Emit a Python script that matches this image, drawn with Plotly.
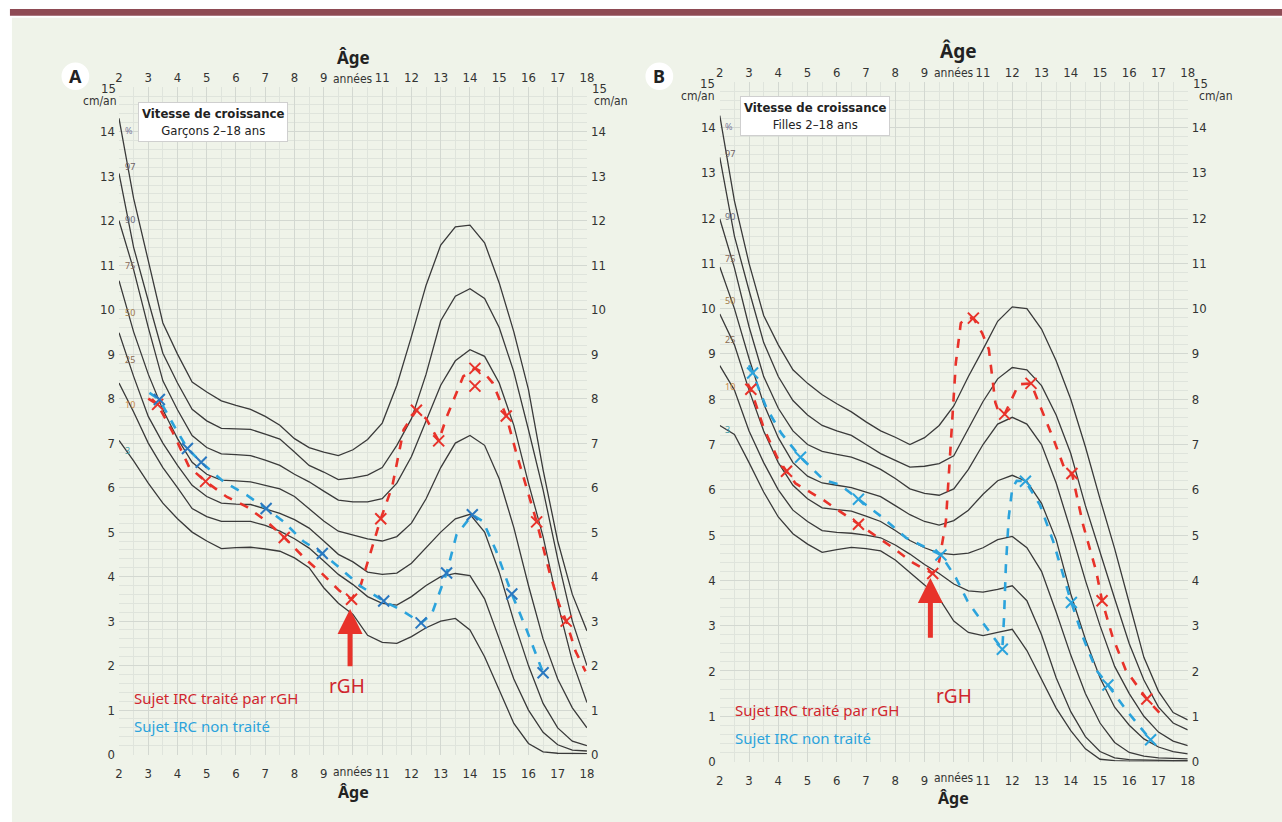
import plotly.graph_objects as go

W, H = 1282, 822

AGES = [2, 2.5, 3, 3.5, 4, 4.5, 5, 5.5, 6, 6.5, 7, 7.5, 8, 8.5, 9, 9.5, 10, 10.5, 11, 11.5,
        12, 12.5, 13, 13.5, 14, 14.5, 15, 15.5, 16, 16.5, 17, 17.5, 18]

# Panel A - boys percentile curves (cm/year)
P97_A = [14.3, 12.5, 11.1, 9.7, 9.0, 8.37, 8.15, 7.95, 7.85, 7.76, 7.6, 7.4, 7.1, 6.9, 6.8, 6.72, 6.85, 7.08, 7.45, 8.3, 9.4, 10.55, 11.45, 11.86, 11.9, 11.5, 10.6, 9.5, 8.2, 6.4, 4.8, 3.6, 2.78]
P90_A = [13.06, 11.4, 10.2, 9.02, 8.35, 7.76, 7.5, 7.33, 7.32, 7.31, 7.2, 7.09, 6.8, 6.5, 6.35, 6.18, 6.22, 6.28, 6.45, 6.95, 7.55, 8.55, 9.75, 10.3, 10.47, 10.25, 9.6, 8.6, 7.3, 5.95, 4.4, 3.0, 2.0]
P75_A = [12.0, 10.9, 9.6, 8.4, 7.75, 7.17, 6.9, 6.76, 6.74, 6.72, 6.62, 6.5, 6.3, 6.13, 5.92, 5.72, 5.68, 5.68, 5.75, 6.1, 6.7, 7.5, 8.3, 8.85, 9.1, 8.95, 8.35, 7.4, 6.1, 4.9, 3.4, 2.1, 1.17]
P50_A = [10.65, 9.5, 8.55, 7.75, 7.1, 6.57, 6.3, 6.17, 6.15, 6.13, 6.05, 5.97, 5.8, 5.53, 5.25, 5.02, 4.94, 4.85, 4.8, 4.9, 5.2, 5.75, 6.45, 7.0, 7.17, 6.95, 6.2, 5.1, 3.8, 2.6, 1.7, 1.05, 0.6]
P25_A = [9.48, 8.5, 7.6, 7.0, 6.5, 6.05, 5.8, 5.65, 5.63, 5.62, 5.52, 5.42, 5.28, 5.09, 4.8, 4.5, 4.33, 4.1, 4.05, 4.08, 4.3, 4.65, 5.0, 5.3, 5.4, 5.0, 4.1, 3.0, 2.0, 1.15, 0.6, 0.3, 0.2]
P10_A = [8.35, 7.7, 7.0, 6.45, 6.0, 5.53, 5.35, 5.24, 5.24, 5.24, 5.15, 5.02, 4.85, 4.64, 4.35, 4.05, 3.82, 3.55, 3.4, 3.36, 3.55, 3.8, 4.0, 4.07, 4.02, 3.5, 2.6, 1.7, 1.0, 0.5, 0.22, 0.1, 0.08]
P3_A = [7.06, 6.6, 6.1, 5.65, 5.3, 5.0, 4.8, 4.63, 4.65, 4.66, 4.62, 4.57, 4.42, 4.2, 3.75, 3.4, 3.15, 2.68, 2.52, 2.5, 2.65, 2.85, 3.0, 3.06, 2.8, 2.2, 1.45, 0.7, 0.25, 0.06, 0.03, 0.02, 0.02]

# Panel B - girls percentile curves
P97_B = [14.26, 12.38, 11.0, 9.85, 9.2, 8.65, 8.35, 8.1, 7.9, 7.72, 7.5, 7.3, 7.16, 7.0, 7.15, 7.42, 7.85, 8.5, 9.1, 9.72, 10.04, 10.0, 9.55, 8.85, 8.0, 6.95, 5.8, 4.7, 3.5, 2.3, 1.55, 1.08, 0.92]
P90_B = [13.34, 11.6, 10.4, 9.25, 8.5, 7.97, 7.65, 7.42, 7.3, 7.2, 7.0, 6.8, 6.65, 6.5, 6.52, 6.58, 6.75, 7.35, 7.95, 8.45, 8.7, 8.65, 8.3, 7.65, 6.8, 5.65, 4.6, 3.6, 2.6, 1.8, 1.2, 0.85, 0.7]
P75_B = [11.98, 10.9, 9.6, 8.5, 7.8, 7.3, 7.0, 6.85, 6.78, 6.72, 6.6, 6.45, 6.25, 6.02, 5.92, 5.88, 6.02, 6.45, 7.0, 7.45, 7.6, 7.45, 7.0, 6.15, 5.1, 4.0, 3.0, 2.1, 1.5, 1.0, 0.65, 0.45, 0.35]
P50_B = [10.92, 10.0, 8.9, 7.9, 7.15, 6.6, 6.3, 6.15, 6.1, 6.05, 5.95, 5.85, 5.65, 5.45, 5.3, 5.22, 5.32, 5.55, 5.9, 6.2, 6.32, 6.18, 5.7, 4.9, 3.7, 2.7, 1.85, 1.2, 0.8, 0.5, 0.32, 0.22, 0.17]
P25_B = [9.88, 9.2, 8.2, 7.3, 6.6, 6.1, 5.8, 5.6, 5.56, 5.53, 5.42, 5.3, 5.1, 4.88, 4.72, 4.6, 4.57, 4.6, 4.72, 4.9, 4.97, 4.72, 4.2, 3.3, 2.35, 1.5, 0.85, 0.42, 0.2, 0.12, 0.08, 0.07, 0.06]
P10_B = [8.74, 8.2, 7.3, 6.6, 6.0, 5.55, 5.3, 5.1, 5.06, 5.04, 5.0, 4.94, 4.78, 4.58, 4.35, 4.15, 3.92, 3.77, 3.74, 3.8, 3.88, 3.55, 2.8, 1.85, 1.1, 0.55, 0.22, 0.08, 0.04, 0.03, 0.02, 0.02, 0.02]
P3_B = [7.42, 7.22, 6.6, 5.95, 5.4, 5.03, 4.8, 4.62, 4.68, 4.73, 4.7, 4.65, 4.45, 4.18, 3.9, 3.6, 3.1, 2.85, 2.78, 2.85, 2.92, 2.45, 1.8, 1.18, 0.68, 0.28, 0.05, 0.02, 0.01, 0.01, 0.01, 0.01, 0.01]

PCT_LABELS = ["%", "97", "90", "75", "50", "25", "10", "3"]
PCT_LABEL_Y_A = [14.03, 13.21, 12.03, 10.99, 9.93, 8.87, 7.87, 6.83]
PCT_LABEL_Y_B = [14.02, 13.43, 12.03, 11.1, 10.19, 9.31, 8.27, 7.33]

# Treated subject (red) and untreated subject (blue), panel A
RED_A_AGE = [3.0, 3.32, 3.84, 4.4, 4.96, 5.69, 6.37, 7.05, 7.65, 8.4, 8.97, 9.54, 9.95, 10.27, 10.95, 11.34, 11.73, 12.17, 12.5, 12.93, 13.21, 13.49, 13.77, 14.17, 14.5, 14.78, 15.24, 15.58, 15.92, 16.28, 16.71, 17.05, 17.29, 17.61, 17.95]
RED_A_V = [8.0, 7.87, 7.24, 6.46, 6.14, 5.79, 5.57, 5.24, 4.88, 4.38, 4.05, 3.68, 3.49, 3.82, 5.3, 6.02, 7.3, 7.74, 7.55, 7.05, 7.6, 8.06, 8.5, 8.68, 8.57, 8.35, 7.61, 6.79, 6.05, 5.23, 4.12, 3.37, 3.0, 2.32, 1.87]
RED_A_MARK_AGE = [3.32, 4.96, 7.65, 9.95, 10.95, 12.17, 12.93, 14.17, 14.17, 15.24, 16.28, 17.29, 18.15]
RED_A_MARK_V = [7.87, 6.14, 4.88, 3.49, 5.3, 7.74, 7.05, 8.68, 8.28, 7.61, 5.23, 3.0, 1.76]

BLUE_A_AGE = [3.04, 3.38, 3.88, 4.34, 4.81, 5.58, 6.37, 7.03, 7.62, 8.29, 8.95, 9.54, 10.27, 11.05, 11.62, 12.33, 12.69, 12.97, 13.2, 13.54, 14.08, 14.45, 14.9, 15.43, 15.91, 16.5]
BLUE_A_V = [8.13, 7.98, 7.39, 6.88, 6.57, 6.13, 5.83, 5.53, 5.24, 4.8, 4.52, 4.2, 3.78, 3.45, 3.26, 2.96, 3.15, 3.67, 4.08, 4.94, 5.39, 5.24, 4.57, 3.61, 2.85, 1.84]
BLUE_A_MARK_AGE = [3.38, 4.34, 4.81, 7.03, 8.95, 11.05, 12.33, 13.2, 14.08, 15.43, 16.5]
BLUE_A_MARK_V = [7.98, 6.88, 6.57, 5.53, 4.52, 3.45, 2.96, 4.08, 5.39, 3.61, 1.84]

# Panel B
RED_B_AGE = [2.95, 3.06, 3.51, 3.97, 4.28, 4.59, 5.55, 6.74, 7.24, 7.92, 8.6, 9.28, 9.5, 9.73, 9.9, 10.07, 10.24, 10.41, 10.67, 10.97, 11.2, 11.31, 11.42, 11.54, 11.74, 11.93, 12.22, 12.64, 13.0, 13.45, 13.79, 14.04, 14.42, 14.87, 15.07, 15.43, 15.88, 16.6, 17.24]
RED_B_V = [8.34, 8.22, 7.35, 6.7, 6.41, 6.14, 5.77, 5.24, 5.01, 4.72, 4.39, 4.15, 4.42, 5.3, 7.05, 8.8, 9.68, 9.79, 9.79, 9.46, 9.1, 8.51, 7.93, 7.71, 7.67, 7.93, 8.33, 8.35, 7.78, 7.05, 6.46, 6.36, 5.23, 4.2, 3.55, 2.75, 2.02, 1.38, 0.93]
RED_B_MARK_AGE = [3.06, 4.28, 6.74, 9.28, 10.67, 11.74, 12.64, 14.04, 15.07, 16.6]
RED_B_MARK_V = [8.22, 6.41, 5.24, 4.15, 9.79, 7.67, 8.35, 6.36, 3.55, 1.38]

BLUE_B_AGE = [3.0, 3.12, 3.6, 4.1, 4.76, 5.55, 6.1, 6.74, 7.58, 8.37, 9.56, 10.07, 10.47, 11.03, 11.66, 11.72, 11.78, 11.88, 12.0, 12.15, 12.45, 12.95, 13.4, 14.02, 14.42, 14.87, 15.27, 15.89, 16.73]
BLUE_B_V = [8.75, 8.58, 7.8, 7.25, 6.72, 6.22, 6.11, 5.79, 5.38, 4.94, 4.56, 4.06, 3.54, 3.03, 2.48, 3.2, 4.3, 5.4, 6.03, 6.2, 6.19, 5.66, 4.86, 3.51, 2.74, 2.02, 1.69, 1.14, 0.48]
BLUE_B_MARK_AGE = [3.12, 4.76, 6.74, 9.56, 11.66, 12.45, 14.02, 15.27, 16.73]
BLUE_B_MARK_V = [8.58, 6.72, 5.79, 4.56, 2.48, 6.19, 3.51, 1.69, 0.48]

X_TICKS = list(range(2, 19))
X_TICKTEXT = [("" if t == 10 else str(t)) for t in X_TICKS]
X_MID_LABEL = "années"
Y_TICKS = list(range(0, 16))
Y_TICKTEXT = [("" if t == 15 else str(t)) for t in Y_TICKS]

BG = "#eff3e9"
GRID = "#d3d8d1"
MINOR = "#dfe4dc"
CURVE = "#3a3a3a"
RED = "#e8322a"
RED_TXT = "#d0262e"
BLUE = "#2ba3dc"
BLUE_DARK = "#2a78c0"
NARROW = "Liberation Sans Narrow, DejaVu Sans Condensed, Roboto, sans-serif"
TICKFONT = dict(family=NARROW, size=13, color="#333333")
TEXTFONT = "Noto Sans, Open Sans, sans-serif"

fig = go.Figure()

def px_x(p):
    return p / W

def px_y(p):
    return 1 - p / H

panels = {
    "A": dict(xd=[116 / W, 588 / W], yd=[1 - 762 / H, 1 - 88 / H], x="x", y="y", x2="x3", y2="y3",
              curves=[P97_A, P90_A, P75_A, P50_A, P25_A, P10_A, P3_A], laby=PCT_LABEL_Y_A,
              red=(RED_A_AGE, RED_A_V, RED_A_MARK_AGE, RED_A_MARK_V),
              blue=(BLUE_A_AGE, BLUE_A_V, BLUE_A_MARK_AGE, BLUE_A_MARK_V), bluemark=BLUE_DARK,
              top_lab=80, bot_lab=780),
    "B": dict(xd=[722 / W, 1194 / W], yd=[1 - 769 / H, 1 - 83 / H], x="x2", y="y2", x2="x4", y2="y4",
              curves=[P97_B, P90_B, P75_B, P50_B, P25_B, P10_B, P3_B], laby=PCT_LABEL_Y_B,
              red=(RED_B_AGE, RED_B_V, RED_B_MARK_AGE, RED_B_MARK_V),
              blue=(BLUE_B_AGE, BLUE_B_V, BLUE_B_MARK_AGE, BLUE_B_MARK_V), bluemark=BLUE,
              top_lab=74, bot_lab=786),
}

for key, p in panels.items():
    for c in p["curves"]:
        fig.add_trace(go.Scatter(x=AGES, y=c, mode="lines", line=dict(color=CURVE, width=1.3),
                                 xaxis=p["x"], yaxis=p["y"], showlegend=False, hoverinfo="skip"))
    ra, rv, rma, rmv = p["red"]
    fig.add_trace(go.Scatter(x=ra, y=rv, mode="lines", line=dict(color=RED, width=2.6, dash="dash"),
                             xaxis=p["x"], yaxis=p["y"], showlegend=False))
    ba, bv, bma, bmv = p["blue"]
    fig.add_trace(go.Scatter(x=ba, y=bv, mode="lines", line=dict(color=BLUE, width=2.6, dash="dash"),
                             xaxis=p["x"], yaxis=p["y"], showlegend=False))
    fig.add_trace(go.Scatter(x=rma, y=rmv, mode="markers", cliponaxis=False,
                             marker=dict(symbol="x-thin", size=11, line=dict(color=RED, width=2)),
                             xaxis=p["x"], yaxis=p["y"], showlegend=False))
    fig.add_trace(go.Scatter(x=bma, y=bmv, mode="markers", cliponaxis=False,
                             marker=dict(symbol="x-thin", size=11, line=dict(color=p["bluemark"], width=2)),
                             xaxis=p["x"], yaxis=p["y"], showlegend=False))
    fig.add_trace(go.Scatter(x=[2], y=[0], mode="markers", marker=dict(opacity=0),
                             xaxis=p["x2"], yaxis=p["y2"], showlegend=False, hoverinfo="skip"))

def xaxis(domain, anchor, side="bottom", overlaying=None, ticklen=0):
    d = dict(domain=domain, anchor=anchor, range=[2, 18], side=side, tickangle=0,
             tickmode="array", tickvals=X_TICKS, ticktext=X_TICKTEXT,
             ticks=("outside" if ticklen else ""), ticklen=max(ticklen, 1), tickcolor="rgba(0,0,0,0)",
             showgrid=True, gridcolor=GRID, gridwidth=1, zeroline=False, showline=False,
             tickfont=TICKFONT, ticklabelstandoff=2,
             minor=dict(dtick=0.5, tick0=2, showgrid=True, gridcolor=MINOR, gridwidth=1))
    if overlaying:
        d.update(overlaying=overlaying, showgrid=False, minor=dict(showgrid=False))
    return d

def yaxis(domain, anchor, side="left", overlaying=None):
    d = dict(domain=domain, anchor=anchor, range=[0, 15], side=side,
             tickmode="array", tickvals=Y_TICKS, ticktext=Y_TICKTEXT, ticks="",
             showgrid=True, gridcolor=GRID, gridwidth=1, zeroline=False, showline=False,
             tickfont=TICKFONT, ticklabelstandoff=3,
             minor=dict(dtick=0.2, tick0=0, showgrid=True, gridcolor=MINOR, gridwidth=1))
    if overlaying:
        d.update(overlaying=overlaying, showgrid=False, minor=dict(showgrid=False))
    return d

pa, pb = panels["A"], panels["B"]
fig.update_layout(
    width=W, height=H, margin=dict(l=0, r=0, t=0, b=0),
    paper_bgcolor="white", plot_bgcolor=BG,
    xaxis=xaxis(pa["xd"], "y", ticklen=5), yaxis=yaxis(pa["yd"], "x"),
    xaxis3=xaxis(pa["xd"], "y3", side="top", overlaying="x"),
    yaxis3=yaxis(pa["yd"], "x3", side="right", overlaying="y"),
    xaxis2=xaxis(pb["xd"], "y2", ticklen=5), yaxis2=yaxis(pb["yd"], "x2"),
    xaxis4=xaxis(pb["xd"], "y4", side="top", overlaying="x2"),
    yaxis4=yaxis(pb["yd"], "x4", side="right", overlaying="y2"),
    showlegend=False,
)

shapes = [
    dict(type="rect", xref="paper", yref="paper", x0=px_x(8), x1=1.02, y0=-0.02, y1=px_y(18),
         fillcolor=BG, line=dict(width=0), layer="below"),
    dict(type="rect", xref="paper", yref="paper", x0=px_x(6), x1=1.02, y0=px_y(16), y1=px_y(9),
         fillcolor="#8e4a54", line=dict(width=0), layer="below"),
    dict(type="circle", xref="paper", yref="paper", x0=px_x(58), x1=px_x(86), y0=px_y(91), y1=px_y(63),
         fillcolor="white", line=dict(width=0)),
    dict(type="circle", xref="paper", yref="paper", x0=px_x(647), x1=px_x(675), y0=px_y(91), y1=px_y(63),
         fillcolor="white", line=dict(width=0)),
]
fig.update_layout(shapes=shapes)

ann = []
def text(xp, yp, s, size, color="#222", bold=False, xanchor="center", family=TEXTFONT):
    ann.append(dict(x=px_x(xp), y=px_y(yp), xref="paper", yref="paper", text=(f"<b>{s}</b>" if bold else s),
                    showarrow=False, xanchor=xanchor, yanchor="middle",
                    font=dict(size=size, color=color, family=family)))

text(72, 77, "A", 18, bold=True)
text(661, 77, "B", 18, bold=True)
text(353, 58, "Âge", 17, bold=True)
text(963, 52, "Âge", 19, bold=True)
text(353, 800, "Âge", 16, bold=True)
text(958, 806, "Âge", 16, bold=True)
# "15" and "cm/an" at the top of each vertical axis
for xp15, xpcm, yp15, ypcm in [(105, 97, 89, 102), (601, 612, 89, 102), (710, 700, 84, 97), (1207, 1222, 84, 97)]:
    text(xp15, yp15, "15", 13, color="#333", family=NARROW)
    text(xpcm, ypcm, "cm/an", 12, color="#333", family=NARROW)

# "années" label replacing the 10 tick (top and bottom)
for key in ["A", "B"]:
    p = panels[key]
    for yp in (p["top_lab"], p["bot_lab"]):
        ann.append(dict(x=10, y=px_y(yp), xref=p["x"], yref="paper", text=X_MID_LABEL, showarrow=False,
                        xanchor="center", yanchor="middle", font=dict(size=12, color="#333", family=NARROW)))

# title boxes
for xp, yp, sub in [(211, 123, "Garçons 2–18 ans"), (818, 117, "Filles 2–18 ans")]:
    ann.append(dict(x=px_x(xp), y=px_y(yp), xref="paper", yref="paper", xanchor="center", yanchor="middle",
                    text=f"<b>Vitesse de croissance</b><br>{sub}", showarrow=False,
                    bgcolor="white", bordercolor="#cfcfcf", borderwidth=1, borderpad=3,
                    font=dict(size=13, color="#222", family=NARROW)))

# percentile labels
LAB_COLORS = ["#7a7a9a", "#6e5e64", "#6a6a7a", "#8a6a5a", "#a07a48", "#8a6a50", "#c88a48", "#3a9aa6"]
for key, xa, ya, xl in [("A", "x", "y", 2.12), ("B", "x2", "y2", 2.12)]:
    for lab, yv, col in zip(PCT_LABELS, panels[key]["laby"], LAB_COLORS):
        ann.append(dict(x=xl, y=yv, xref=xa, yref=ya, text=lab, showarrow=False, xanchor="left",
                        font=dict(size=9, color=col, family=TEXTFONT)))

# arrows + rGH
for xa, ya, ax, tip, tail, tx, ty in [("x", "y", 9.9, 3.27, 1.95, 9.78, 1.55), ("x2", "y2", 9.2, 4.05, 2.7, 10.0, 1.44)]:
    ann.append(dict(x=ax, y=tip, ax=ax, ay=tail, xref=xa, yref=ya, axref=xa, ayref=ya, text="",
                    showarrow=True, arrowhead=2, arrowsize=1, arrowwidth=5, arrowcolor=RED))
    ann.append(dict(x=tx, y=ty, xref=xa, yref=ya, text="rGH", showarrow=False,
                    font=dict(size=19, color=RED_TXT, family=TEXTFONT)))

# legend texts
for xa, ya, y1, y2 in [("x", "y", 1.27, 0.65), ("x2", "y2", 1.14, 0.53)]:
    ann.append(dict(x=2.45, y=y1, xref=xa, yref=ya, text="Sujet IRC traité par rGH", showarrow=False,
                    xanchor="left", font=dict(size=15, color=RED_TXT, family=TEXTFONT)))
    ann.append(dict(x=2.45, y=y2, xref=xa, yref=ya, text="Sujet IRC non traité", showarrow=False,
                    xanchor="left", font=dict(size=15, color=BLUE, family=TEXTFONT)))

fig.update_layout(annotations=ann)
fig.write_html("out.html", config={"displayModeBar": False},
               post_script="document.body.style.margin='0px';document.body.style.padding='0px';")
